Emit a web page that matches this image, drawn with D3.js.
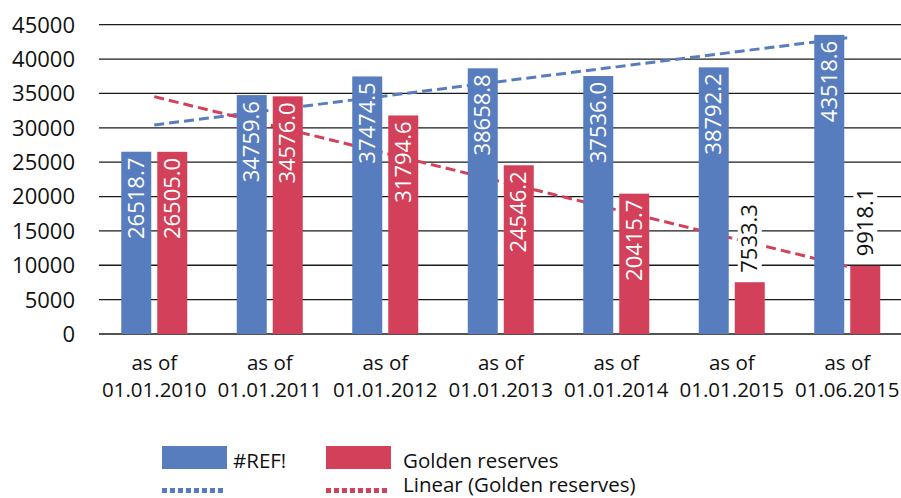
<!DOCTYPE html>
<html><head><meta charset="utf-8">
<script src="https://cdn.jsdelivr.net/npm/d3@7/dist/d3.min.js"></script>
<style>
body{margin:0;background:#fff;}
svg{display:block;font-family:"Open Sans",sans-serif;}
</style></head>
<body><svg id="c" width="901" height="498"></svg>
<script>
const categories = [["as of","01.01.2010"],["as of","01.01.2011"],["as of","01.01.2012"],["as of","01.01.2013"],["as of","01.01.2014"],["as of","01.01.2015"],["as of","01.06.2015"]];
const refValues = [26518.7, 34759.6, 37474.5, 38658.8, 37536.0, 38792.2, 43518.6];
const goldValues = [26505.0, 34576.0, 31794.6, 24546.2, 20415.7, 7533.3, 9918.1];
const yTicks = [0,5000,10000,15000,20000,25000,30000,35000,40000,45000];
const seriesNames = ["#REF!", "Golden reserves"];
const trendNames = ["", "Linear (Golden reserves)"];
const colors = ["#587DBF", "#D2405A"];

const svg = d3.select("#c");
const catKeys = categories.map(c => c.join(" "));
const x = d3.scaleBand().domain(catKeys).range([96.5, 905]);
const xs = d3.scaleBand().domain([0,1]).range([-33, 33]).paddingInner(1/6);
const y = d3.scaleLinear().domain([0,45000]).range([334, 24.7]);

// gridlines
const grid = svg.append("g");
grid.selectAll("line").data(yTicks).join("line")
  .attr("x1", 99).attr("x2", 901)
  .attr("y1", d => y(d)).attr("y2", d => y(d))
  .attr("stroke", "#1a1a1a").attr("stroke-width", 1.3);

// y axis labels
svg.append("g").selectAll("text").data(yTicks).join("text")
  .attr("x", 75).attr("y", d => y(d)).attr("dy", "0.36em")
  .attr("text-anchor", "end").attr("font-size", 22).attr("fill", "#111")
  .text(d => d);

// x labels
const xl = svg.append("g").selectAll("text").data(categories).join("text")
  .attr("text-anchor", "middle").attr("font-size", 20.5).attr("fill", "#111")
  .attr("transform", (d,i) => `translate(${x(catKeys[i]) + x.bandwidth()/2},0)`);
xl.append("tspan").attr("x", 0).attr("y", 370).text(d => d[0]);
xl.append("tspan").attr("x", 0).attr("y", 397).text(d => d[1]);

// trend lines (linear regression)
function trend(vals){
  const xsv = vals.map((v,i)=>i+1);
  const mx = d3.mean(xsv), my = d3.mean(vals);
  const b = d3.sum(vals.map((v,i)=>(xsv[i]-mx)*(v-my))) / d3.sum(xsv.map(v=>(v-mx)*(v-mx)));
  return xsv.map(v => my + b*(v-mx));
}
const allVals = [refValues, goldValues];
const tg = svg.append("g");
allVals.forEach((vals, s) => {
  const t = trend(vals);
  const line = d3.line().x((d,i) => x(catKeys[i]) + x.bandwidth()/2).y(d => y(d));
  tg.append("path").datum(t).attr("d", line)
    .attr("fill", "none").attr("stroke", colors[s]).attr("stroke-width", 3)
    .attr("stroke-dasharray", "10,5");
});

// bars
const bars = svg.append("g");
allVals.forEach((vals, s) => {
  bars.selectAll(null).data(vals).join("rect")
    .attr("x", (d,i) => x(catKeys[i]) + x.bandwidth()/2 + xs(s))
    .attr("width", xs.bandwidth())
    .attr("y", d => y(d)).attr("height", d => y(0) - y(d))
    .attr("fill", colors[s]);
});

// value labels
const lg = svg.append("g");
allVals.forEach((vals, s) => {
  vals.forEach((v, i) => {
    const cx = x(catKeys[i]) + x.bandwidth()/2 + xs(s) + xs.bandwidth()/2;
    const top = y(v);
    const h = y(0) - top;
    const g = lg.append("g");
    const t = g.append("text").attr("font-size", 22).attr("dy", "0.35em").text(v.toFixed(1));
    const len = t.node().getComputedTextLength();
    if (h >= len + 12) {
      t.attr("fill", "#fff").attr("text-anchor", "end")
        .attr("transform", `translate(${cx},${top + 6}) rotate(-90)`);
    } else {
      const base = top - 9.5;
      g.insert("rect", "text").attr("x", cx - 12).attr("y", base - len - 3)
        .attr("width", 24).attr("height", len + 6).attr("fill", "#fff");
      t.attr("fill", "#111").attr("text-anchor", "start")
        .attr("transform", `translate(${cx},${base}) rotate(-90)`);
    }
  });
});

// legend
const leg = svg.append("g");
const legX = [162, 326];
seriesNames.forEach((name, s) => {
  leg.append("rect").attr("x", legX[s]).attr("y", 446).attr("width", 65).attr("height", 23).attr("fill", colors[s]);
  leg.append("text").attr("x", s === 0 ? 233 : 403).attr("y", 467.5).attr("font-size", 20.5).attr("fill", "#111").text(name);
  leg.append("line").attr("x1", legX[s]).attr("x2", legX[s] + 61).attr("y1", 490.5).attr("y2", 490.5)
    .attr("stroke", colors[s]).attr("stroke-width", 5).attr("stroke-dasharray", "5,3");
  if (trendNames[s]) leg.append("text").attr("x", 403).attr("y", 492).attr("font-size", 20.5).attr("fill", "#111").text(trendNames[s]);
});
</script></body></html>
